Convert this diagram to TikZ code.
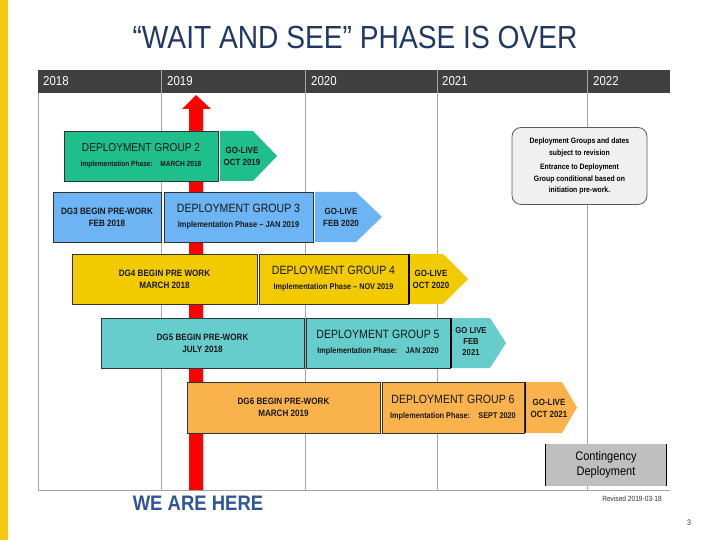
\documentclass[tikz,border=0pt]{standalone}
\usepackage{fontspec}
\setmainfont{Liberation Sans}[FakeStretch=0.88]
\usetikzlibrary{positioning}

\definecolor{sidebar}{HTML}{F2C811}
\definecolor{headgray}{HTML}{404040}
\definecolor{gridgray}{HTML}{A6A6A6}
\definecolor{titleblue}{HTML}{1F3864}
\definecolor{hereblue}{HTML}{2F5597}
\definecolor{dgtwo}{HTML}{1FBF8C}
\definecolor{dgthree}{HTML}{6CB4F4}
\definecolor{dgfour}{HTML}{F2CA00}
\definecolor{dgfive}{HTML}{66CCCC}
\definecolor{dgsix}{HTML}{FAB24C}
\definecolor{notegray}{HTML}{F0F0F0}
\definecolor{contgray}{HTML}{BFBFBF}

\begin{document}
\begin{tikzpicture}[x=1pt, y=-1pt,
    bar/.style={rectangle, draw=black!80, line width=0.5pt, inner sep=0pt, align=center, text=black!90, minimum height=50},
    prework/.style={bar, font=\bfseries\fontsize{9.2}{12}\selectfont},
    phase/.style={bar},
    golive/.style={align=center, inner sep=0pt, text=black!90, font=\bfseries\fontsize{9}{12}\selectfont},
    year/.style={anchor=west, inner sep=0pt, text=white, font=\fontsize{13}{15}\selectfont},
    grid/.style={gridgray, line width=0.8pt}
  ]
  \useasboundingbox (0,0) rectangle (720,540);
  \fill[sidebar] (0,0) rectangle (8,540);

  \node[text=titleblue, font=\fontsize{32}{36}\selectfont] (title) at (355,37) {“WAIT AND SEE” PHASE IS OVER};

  % timeline grid
  \fill[headgray] (38,70) rectangle (670,93);
  \draw[grid] (38,93) -- (38,490) -- (670,490);
  \foreach \xx in {161,305,437,587} {
    \draw[grid] (\xx,93) -- (\xx,490);
    \draw[gray!70, line width=0.8pt] (\xx,70) -- (\xx,93);
  }
  \node[year] (y2018) at (43,81) {2018};
  \node[year] (y2019) at (167,81) {2019};
  \node[year] (y2020) at (311,81) {2020};
  \node[year] (y2021) at (442,81) {2021};
  \node[year] (y2022) at (593,81) {2022};

  % we are here
  \fill[red] (189,490) -- (189,109) -- (182,109) -- (196,95) -- (211,109) -- (203,109) -- (203,490) -- cycle;

  % group 2
  \node[phase, fill=dgtwo, minimum width=154] (dg2) at (141,156)
    {{\fontsize{11.5}{14}\selectfont DEPLOYMENT GROUP 2}\\[3pt]{\bfseries\fontsize{7.5}{9}\selectfont Implementation Phase:\quad MARCH 2018}};
  \fill[dgtwo] (220,131) -- (253,131) -- (277,156) -- (253,181) -- (220,181) -- cycle;
  \node[golive] (live2) at (242,156) {GO-LIVE\\OCT 2019};

  % group 3
  \node[prework, fill=dgthree, minimum width=108] (pre3) at (107,217) {DG3 BEGIN PRE-WORK\\FEB 2018};
  \node[phase, fill=dgthree, minimum width=149] (dg3) at (238.5,217)
    {{\fontsize{12}{14}\selectfont DEPLOYMENT GROUP 3}\\[3pt]{\bfseries\fontsize{8.5}{10}\selectfont Implementation Phase – JAN 2019}};
  \fill[dgthree] (315,192) -- (356,192) -- (382,217) -- (356,242) -- (315,242) -- cycle;
  \node[golive] (live3) at (341,217) {GO-LIVE\\FEB 2020};

  % group 4
  \node[prework, fill=dgfour, minimum width=185] (pre4) at (164.5,279) {DG4 BEGIN PRE WORK\\MARCH 2018};
  \node[phase, fill=dgfour, minimum width=149] (dg4) at (333.5,279)
    {{\fontsize{12}{14}\selectfont DEPLOYMENT GROUP 4}\\[3pt]{\bfseries\fontsize{8.3}{10}\selectfont Implementation Phase – NOV 2019}};
  \fill[dgfour] (410,254) -- (443,254) -- (468,279) -- (443,304) -- (410,304) -- cycle;
  \draw[black, line width=1.5pt] (409,254) -- (409,304);
  \node[golive] (live4) at (431,279) {GO-LIVE\\OCT 2020};

  % group 5
  \node[prework, fill=dgfive, minimum width=203] (pre5) at (202.5,343) {DG5 BEGIN PRE-WORK\\JULY 2018};
  \node[phase, fill=dgfive, minimum width=144] (dg5) at (378,343)
    {{\fontsize{12}{14}\selectfont DEPLOYMENT GROUP 5}\\[3pt]{\bfseries\fontsize{8.3}{10}\selectfont Implementation Phase:\quad JAN 2020}};
  \fill[dgfive] (452,318) -- (490,318) -- (506,343) -- (490,368) -- (452,368) -- cycle;
  \draw[black, line width=1.5pt] (451,318) -- (451,368);
  \node[golive, font=\bfseries\fontsize{8.7}{11}\selectfont] (live5) at (471,342) {GO LIVE\\FEB\\2021};

  % group 6
  \node[prework, fill=dgsix, minimum width=193, minimum height=51] (pre6) at (283.5,407.5) {DG6 BEGIN PRE-WORK\\MARCH 2019};
  \node[phase, fill=dgsix, minimum width=142, minimum height=51] (dg6) at (453,407.5)
    {{\fontsize{12}{14}\selectfont DEPLOYMENT GROUP 6}\\[3pt]{\bfseries\fontsize{8.3}{10}\selectfont Implementation Phase:\quad SEPT 2020}};
  \fill[dgsix] (526,382) -- (562,382) -- (577,407.5) -- (562,433) -- (526,433) -- cycle;
  \draw[black, line width=1pt] (525,382) -- (525,433);
  \node[golive] (live6) at (549,408) {GO-LIVE\\OCT 2021};

  % notes
  \node[rectangle, rounded corners=9pt, draw=black!65, line width=0.8pt, fill=notegray, minimum width=135, minimum height=77,
    align=center, font=\bfseries\fontsize{7.8}{11.5}\selectfont] (remark) at (579.5,166)
    {Deployment Groups and dates\\subject to revision\\[3pt]Entrance to Deployment\\Group conditional based on\\initiation pre-work.};

  \node[rectangle, fill=contgray, minimum width=120, minimum height=42, align=center,
    font=\fontsize{12.5}{14.5}\selectfont] (contingency) at (606,465) {Contingency\\Deployment};
  \draw[black, line width=0.8pt] (contingency.north west) -- (contingency.south west);
  \draw[black, line width=0.8pt] (contingency.north east) -- (contingency.south east);

  \node[text=hereblue, font=\bfseries\fontsize{21}{24}\selectfont] (here) at (198,503) {WE ARE HERE};
  \node[font=\fontsize{7.5}{9}\selectfont, text=black!80] (revised) at (632,499) {Revised 2019-03-18};
  \node[font=\fontsize{8}{9}\selectfont, text=black!80] (pagenum) at (689,523) {3};
\end{tikzpicture}
\end{document}
